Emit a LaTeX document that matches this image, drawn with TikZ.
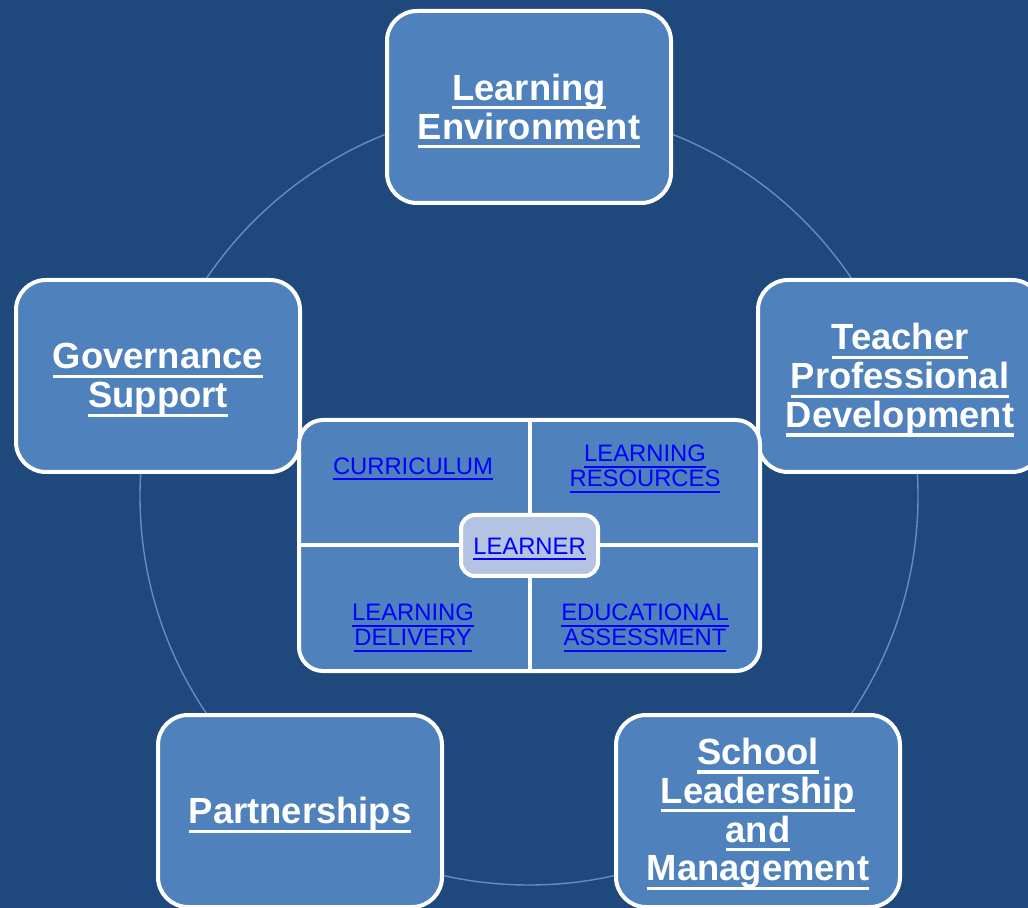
\documentclass[tikz,border=0pt]{standalone}
\usepackage{fontspec}
\setmainfont{Liberation Sans}
\usepackage{tikz}
\usetikzlibrary{positioning}

\definecolor{bgblue}{HTML}{1F497D}
\definecolor{boxblue}{HTML}{4F81BD}
\definecolor{learnerblue}{HTML}{B3C3E1}
\definecolor{linkblue}{HTML}{0000FF}

\newcommand{\undr}[1]{\setbox0=\hbox{#1}\rlap{\copy0}\rule[-0.25em]{\wd0}{0.085em}}

\tikzset{
  area/.style={draw=white, line width=2pt, fill=boxblue, rounded corners=15pt,
    minimum width=142pt, minimum height=96pt, text=white, align=center,
    inner sep=0pt, font=\bfseries\fontsize{18.2}{19.4}\selectfont},
  areatext/.style={text=white, align=center, inner sep=0pt,
    font=\bfseries\fontsize{18.2}{19.4}\selectfont},
  link/.style={text=linkblue, align=center, inner sep=0pt,
    font=\fontsize{11.9}{12.6}\selectfont}
}

\begin{document}
\begin{tikzpicture}[x=0.5pt, y=-0.5pt]

      \fill[bgblue] (0,0) rectangle (1028,908);
      \useasboundingbox (0,0) rectangle (1028,908);
      \clip (0,0) rectangle (1028,908);

      \def\radiusring{194.5pt}
      \draw[boxblue!90!white, line width=0.7pt] (529,496) circle (\radiusring);

      % outer ring of boxes
      \node (environment)  at (529,107) [area] {};
      \node (governance)   at (158,376) [area] {};
      \node (teacher)      at (900,376) [area] {};
      \node (partnerships) at (300,811) [area] {};
      \node (leadership)   at (758,811) [area] {};

      \node (environmenttext)  at (529,111) [areatext] {\undr{Learning}\\ \undr{Environment}};
      \node (governancetext)   at (158,380) [areatext] {\undr{Governance}\\ \undr{Support}};
      \node (teachertext)      at (900,380) [areatext] {\undr{Teacher}\\ \undr{Professional}\\ \undr{Development}};
      \node (partnershipstext) at (300,815) [areatext] {\undr{Partnerships}};
      \node (leadershiptext)   at (758,814) [areatext]
        {\undr{School}\\ \undr{Leadership}\\ \undr{and}\\ \undr{Management}};

      % centre panel
      \node (hub) at (529.5,545.5)
        [draw=white, line width=2pt, fill=boxblue, rounded corners=12pt,
         minimum width=230.5pt, minimum height=125.5pt] {};
      \draw[white, line width=2pt] (hub.north) -- (hub.south);
      \draw[white, line width=2pt] (hub.west) -- (hub.east);

      \node (curriculum) at (413,469) [link] {\undr{CURRICULUM}};
      \node (resources)  at (645,469) [link] {\undr{LEARNING}\\ \undr{RESOURCES}};
      \node (delivery)   at (413,628) [link] {\undr{LEARNING}\\ \undr{DELIVERY}};
      \node (assessment) at (645,628) [link] {\undr{EDUCATIONAL}\\ \undr{ASSESSMENT}};

      \node (learner) at (529.5,545.5)
        [draw=white, line width=2pt, fill=learnerblue, rounded corners=7pt,
         minimum width=68.5pt, minimum height=30.5pt] {};
      \node (learnertext) at (529.5,549) [link] {\undr{LEARNER}};

\end{tikzpicture}
\end{document}
